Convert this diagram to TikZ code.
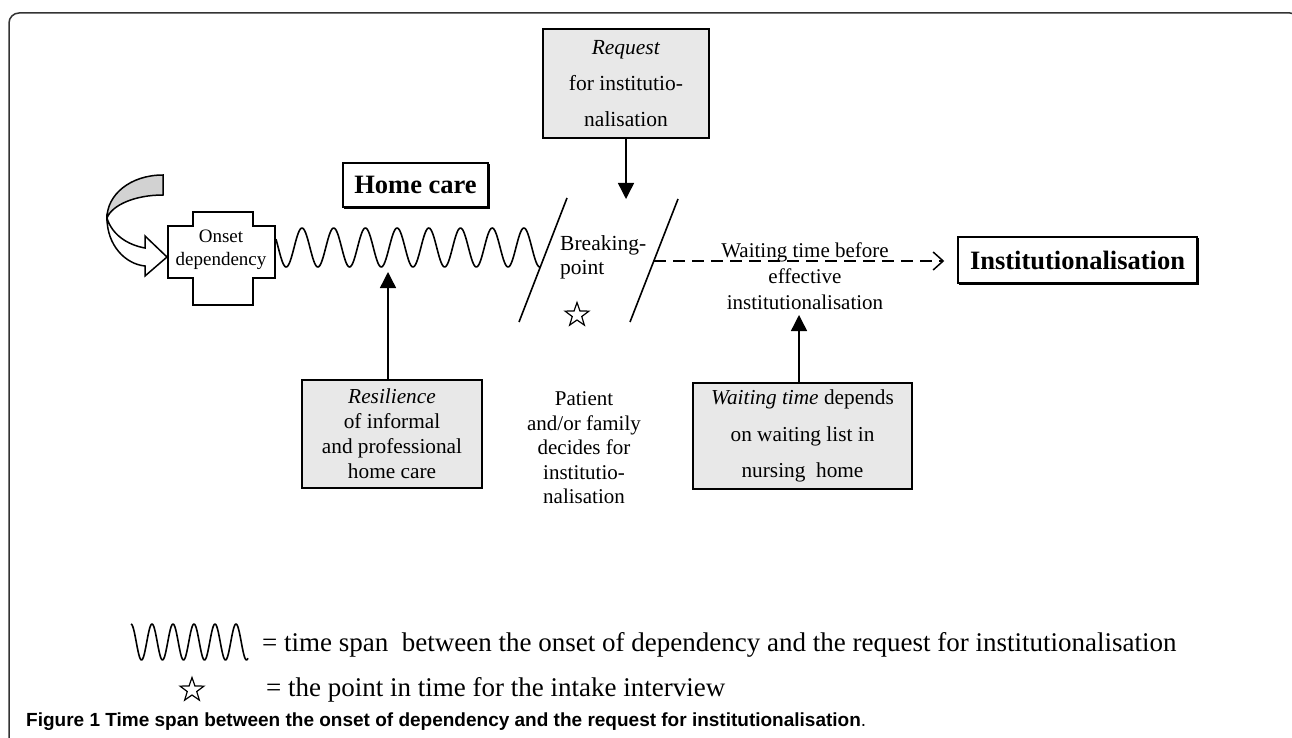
\documentclass[tikz,border=0pt]{standalone}
\usepackage{fontspec}
\setmainfont{Liberation Serif}
\newfontfamily\capfont{Liberation Sans}
\usetikzlibrary{shapes.geometric}
\usetikzlibrary{arrows.meta}
\usetikzlibrary{shadows}
\usetikzlibrary{positioning}

\definecolor{boxgray}{HTML}{E8E8E8}
\definecolor{arrowgray}{HTML}{D2D2D2}
\definecolor{framegray}{HTML}{333333}

\begin{document}
\begin{tikzpicture}
[x=1pt, y=-1pt,
block/.style     = {rectangle, draw, line width=1.6pt, fill=boxgray, align=center, inner sep=0pt},
title_box/.style = {rectangle, draw, line width=1.5pt, fill=white, inner sep=0pt, font=\bfseries\fontsize{26.5pt}{30pt}\selectfont, copy shadow={shadow xshift=1.6pt, shadow yshift=-1.6pt}},
text_only/.style = {align=center, inner sep=0pt},
line/.style      = {draw, line width=1.4pt, -{Triangle[length=16pt, width=16pt]}},
wait_line/.style = {draw, line width=1.5pt, dash pattern=on 12pt off 7pt, -{Straight Barb[length=10pt, width=18pt, line width=1.5pt]}},
wave/.style      = {line width=1.6pt, line join=round},
slash/.style     = {line width=1.6pt},
intake/.style    = {star, star points=5, star point ratio=2.5, draw, line width=1.2pt, minimum size=25pt, inner sep=0pt}
]

\useasboundingbox (0,0) rectangle (1292,738);
\clip (0,0) rectangle (1292,738);

% frame
\draw[framegray, line width=1.5pt, rounded corners=10pt] (9,13) rectangle (1300,760);

% curved arrow into the onset
\draw[line width=1.5pt, fill=arrowgray] (163,175) .. controls (130,175) and (107,195) .. (107,218)
   .. controls (112,205) and (135,195) .. (163,195) -- cycle;
\draw[line width=1.5pt, fill=white] (107,218) .. controls (107,245) and (125,264) .. (145,266)
   -- (145,276) -- (167,257) -- (145,236) -- (145,248)
   .. controls (128,245) and (112,235) .. (107,218) -- cycle;

% onset cross
\draw[line width=2pt, fill=white] (193,212) -- (253,212) -- (253,226) -- (275,226) -- (275,278)
   -- (253,278) -- (253,305) -- (193,305) -- (193,278) -- (168,278) -- (168,226) -- (193,226) -- cycle;
\node[text_only, font=\fontsize{19pt}{23pt}\selectfont] (onset) at (221,250) {Onset\\dependency};

% home care period
\draw[wave] plot[domain=276:540, samples=260] (\x, {247.5-19.5*cos((\x-302)/31.7*360)});
\node[title_box, minimum width=145pt, minimum height=44pt] (home_care) at (415.5,185) {Home care};

% breaking point
\coordinate (break_l_top) at (567,198);
\coordinate (break_l_bot) at (519,322);
\coordinate (break_r_top) at (678,199);
\coordinate (break_r_bot) at (630,322);
\draw[slash] (break_l_top) -- (break_l_bot);
\draw[slash] (break_r_top) -- (break_r_bot);
\node[text_only, align=left, anchor=west, font=\fontsize{21.5pt}{24pt}\selectfont] (breaking) at (560,257) {Breaking-\\point};
\node[intake] (star_break) at (577,315) {};

\node[block, minimum width=166pt, minimum height=109pt, font=\fontsize{21.5pt}{36pt}\selectfont] (request) at (626,83.5)
   {\textit{Request}\\for institutio-\\nalisation};
\coordinate (request_tip) at (626,199);

\node[block, minimum width=180pt, minimum height=108pt, font=\fontsize{21.3pt}{25pt}\selectfont] (resilience) at (392,434)
   {\textit{Resilience}\\ of informal\\and professional\\home care};
\coordinate (resilience_tip) at (388,272);

\node[text_only, font=\fontsize{21pt}{24.5pt}\selectfont] (decision) at (584,448)
   {Patient\\and/or family\\decides for\\institutio-\\nalisation};

% waiting period
\node[title_box, minimum width=239pt, minimum height=46pt] (inst) at (1077.5,260) {Institutionalisation};
\coordinate (wait_start) at (654,261);
\node[text_only, font=\fontsize{21pt}{26pt}\selectfont] (wait_text) at (805,276)
   {Waiting time before\\effective\\institutionalisation};

\node[block, minimum width=219pt, minimum height=106pt, font=\fontsize{21.3pt}{36.5pt}\selectfont] (waiting) at (802.5,436)
   {\textit{Waiting time} depends\\on waiting list in\\nursing\ \ home};
\coordinate (waiting_tip) at (799,315);

\begin{scope}[every path/.style=line]
\path (request.south) -- (request_tip);
\path (resilience.north -| resilience_tip) -- (resilience_tip);
\path (waiting.north -| waiting_tip) -- (waiting_tip);
\end{scope}
\path[wait_line, shorten >=13pt] (wait_start) -- (wait_start -| inst.west);

% legend
\draw[wave] plot[domain=131:248, samples=150] (\x, {642-18*cos((\x-131)/21*360)});
\node[text_only, anchor=west, font=\fontsize{27pt}{30pt}\selectfont] (legend_wave) at (262,645)
   {= time span\ \ between the onset of dependency and the request for institutionalisation};
\node[intake] (legend_star) at (192,690) {};
\node[text_only, anchor=west, font=\fontsize{27pt}{30pt}\selectfont] (legend_star_text) at (266,690)
   {= the point in time for the intake interview};

% caption
\node[text_only, anchor=west, font=\capfont\fontsize{19pt}{21pt}\selectfont] (caption) at (26,722)
   {\textbf{Figure 1 Time span between the onset of dependency and the request for institutionalisation}.};

\end{tikzpicture}
\end{document}
